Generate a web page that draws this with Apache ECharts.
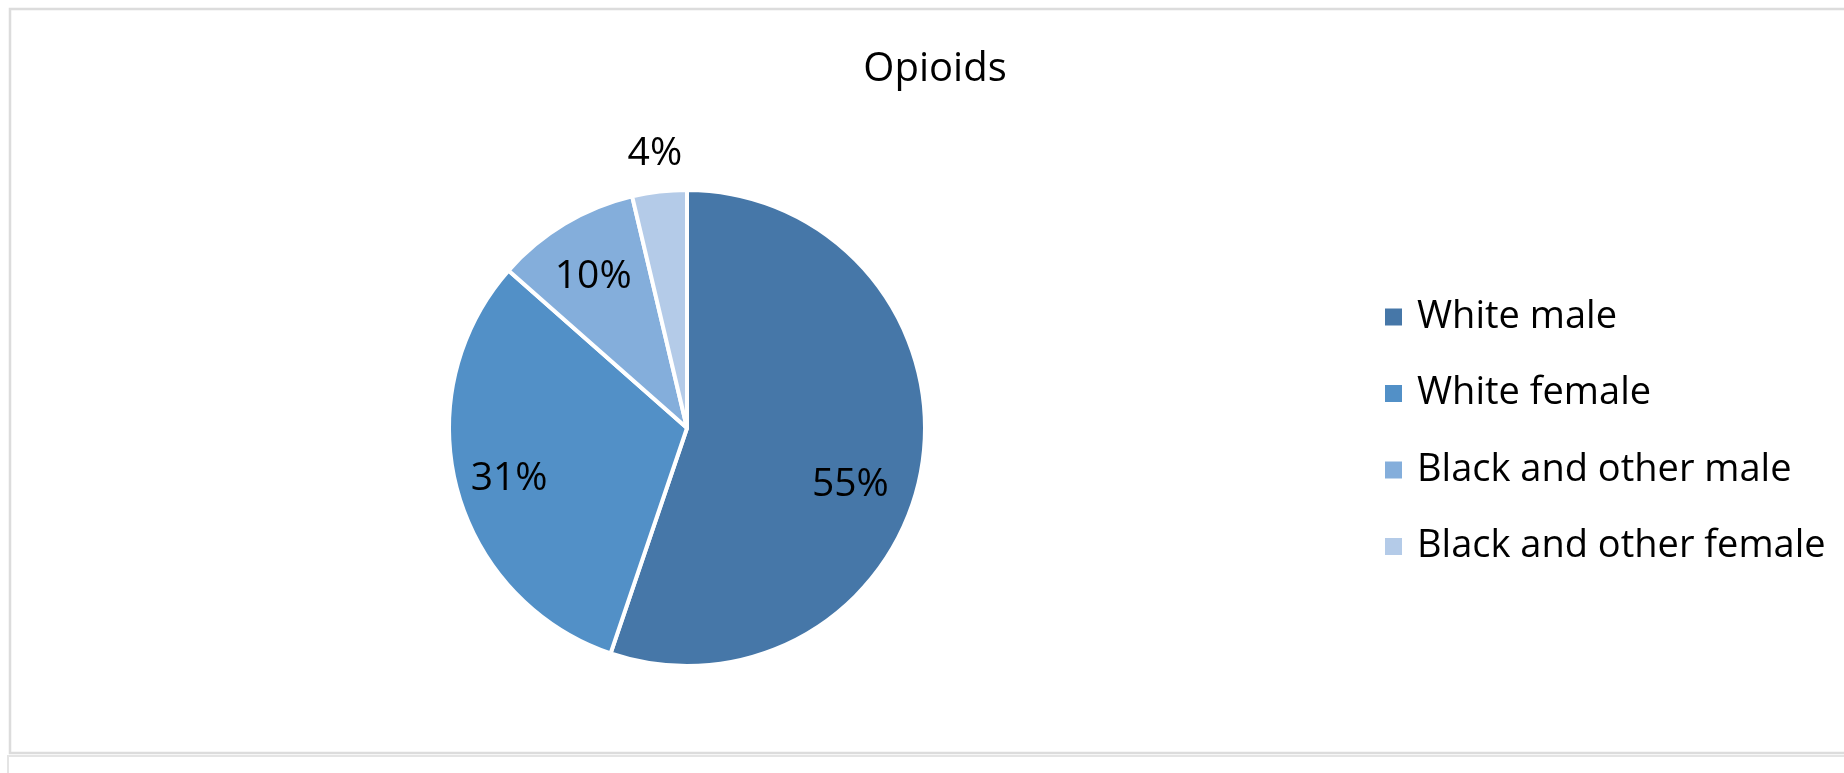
<!DOCTYPE html>
<html>
<head>
<meta charset="utf-8">
<script src="https://cdn.jsdelivr.net/npm/echarts@6/dist/echarts.min.js"></script>
<style>
html,body{margin:0;padding:0;background:#fff;}
#main{width:1844px;height:773px;}
</style>
</head>
<body>
<div id="main"></div>
<script>
// ---- data ----
const titleText = 'Opioids';
const categories = ['White male', 'White female', 'Black and other male', 'Black and other female'];
const values = [55.2, 31.3, 9.8, 3.7];
const colors = ['#4677A8', '#5290C7', '#84AEDB', '#B4CBE8'];

// ---- label placement (layout, not data) ----
const labelOffsets = [[43, 37], [-60, 19], [-31, -46], [-18, -153]];

const FONT = '"Open Sans", "Noto Sans", sans-serif';

const chart = echarts.init(document.getElementById('main'), null, {renderer: 'canvas'});

const pieData = categories.map((name, i) => ({
  name: name,
  value: values[i],
  itemStyle: {color: colors[i]},
  label: {offset: labelOffsets[i]}
}));

chart.setOption({
  animation: false,
  backgroundColor: '#ffffff',
  title: {
    text: titleText,
    left: 935,
    textAlign: 'center',
    top: 47,
    padding: 0,
    textStyle: {fontFamily: FONT, fontSize: 40, fontWeight: 'normal', color: '#000', lineHeight: 46}
  },
  legend: {
    orient: 'vertical',
    left: 1383,
    top: 297,
    padding: 0,
    itemWidth: 19,
    itemHeight: 19,
    itemGap: 36.5,
    icon: 'rect',
    data: categories,
    textStyle: {fontFamily: FONT, fontSize: 38, color: '#000', lineHeight: 40, padding: [0, 0, 0, 9]}
  },
  graphic: [
    {type: 'rect', shape: {x: 10, y: 9, width: 1900, height: 744}, style: {fill: null, stroke: '#dcdcdc', lineWidth: 2.5}, silent: true, z: -1},
    {type: 'polyline', shape: {points: [[8, 790], [8, 756], [1900, 756]]}, style: {fill: null, stroke: '#e4e4e4', lineWidth: 2}, silent: true, z: -1}
  ],
  series: [{
    type: 'pie',
    center: [687, 428],
    radius: 238,
    startAngle: 90,
    clockwise: true,
    percentPrecision: 0,
    itemStyle: {borderColor: '#ffffff', borderWidth: 4},
    label: {
      show: true,
      position: 'inside',
      formatter: '{d}%',
      fontFamily: FONT,
      fontSize: 39,
      color: '#000'
    },
    labelLine: {show: false},
    emphasis: {disabled: true},
    data: pieData
  }]
});
</script>
</body>
</html>
